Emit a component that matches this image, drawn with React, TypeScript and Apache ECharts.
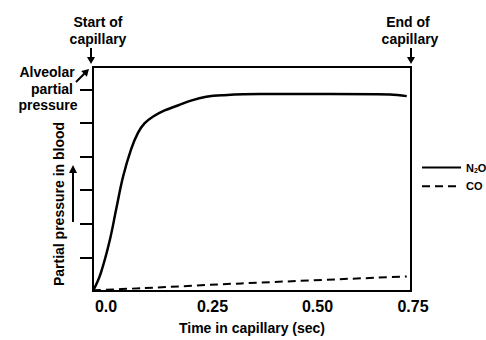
import React, { useEffect, useRef } from "react";
import * as echarts from "echarts";

const timeN2O = [0, 0.018, 0.039, 0.055, 0.071, 0.09, 0.106, 0.122, 0.142, 0.169, 0.2, 0.231, 0.267, 0.307, 0.394, 0.559, 0.7, 0.74];
const n2oValues = [0, 7.8, 22.2, 36.8, 51.1, 63.3, 70.6, 74.9, 77.9, 80.6, 82.8, 85.0, 86.7, 87.4, 87.9, 87.9, 87.7, 87.0];
const timeCO = [0, 0.12, 0.35, 0.74];
const coValues = [0.3, 1.3, 3.4, 6.5];
const xTickLabels = ["0.0", "0.25", "0.50", "0.75"];
const yTickValues = [15, 30, 45, 60, 75, 90];
const seriesNames = ["N2O", "CO"];

const FONT = "Liberation Sans, Arial, sans-serif";

function arrow(x1: number, y1: number, x2: number, y2: number, head = 7, half = 4) {
  const dx = x2 - x1;
  const dy = y2 - y1;
  const len = Math.sqrt(dx * dx + dy * dy);
  const ux = dx / len;
  const uy = dy / len;
  const bx = x2 - ux * head;
  const by = y2 - uy * head;
  const px = -uy;
  const py = ux;
  return [
    {
      type: "line",
      shape: { x1, y1, x2: bx + ux, y2: by + uy },
      style: { stroke: "#000", lineWidth: 2 },
    },
    {
      type: "polygon",
      shape: {
        points: [
          [x2, y2],
          [bx + px * half, by + py * half],
          [bx - px * half, by - py * half],
        ],
      },
      style: { fill: "#000" },
    },
  ];
}

function label(text: string, x: number, y: number) {
  return {
    type: "text",
    x,
    y,
    style: {
      text,
      fontSize: 14,
      fontWeight: "bold",
      fontFamily: FONT,
      fill: "#000",
      align: "center",
      verticalAlign: "middle",
    },
  };
}

export default function App() {
  const ref = useRef<HTMLDivElement>(null);
  useEffect(() => {
    if (!ref.current) return;
    const chart = echarts.init(ref.current, null, { renderer: "svg" });
    const labelPad = [26, 27, 25, 4];
    const rich: any = {};
    labelPad.forEach((p, i) => {
      rich["s" + i] = {
        fontSize: 16,
        fontWeight: "bold",
        fontFamily: FONT,
        color: "#000",
        padding: [0, 0, 0, p],
      };
    });
    const option: any = {
      animation: false,
      backgroundColor: "#fff",
      grid: {
        left: 93,
        right: 75,
        top: 67,
        bottom: 42,
        show: true,
        borderColor: "#000",
        borderWidth: 2,
      },
      legend: {
        data: seriesNames,
        orient: "vertical",
        left: 416,
        top: 157,
        itemWidth: 39,
        itemHeight: 14,
        itemGap: 7,
        selectedMode: false,
        itemStyle: { opacity: 0 },
        formatter: (name: string) => (name === "N2O" ? "{n|N}{sub|2}{n|O}" : "{n|" + name + "}"),
        textStyle: {
          fontSize: 11,
          fontWeight: "bold",
          fontFamily: FONT,
          color: "#000",
          rich: {
            n: { fontSize: 11, fontWeight: "bold", fontFamily: FONT, color: "#000", verticalAlign: "middle" },
            sub: {
              fontSize: 7,
              fontWeight: "bold",
              fontFamily: FONT,
              color: "#000",
              padding: [5, 0, 0, 0],
              verticalAlign: "middle",
            },
          },
        },
      },
      xAxis: {
        type: "value",
        min: 0,
        max: 0.75,
        interval: 0.25,
        name: "Time in capillary (sec)",
        nameLocation: "middle",
        nameGap: 30,
        nameTextStyle: { fontSize: 14, fontWeight: "bold", fontFamily: FONT, color: "#000" },
        axisLine: { show: true, lineStyle: { color: "#000", width: 2 } },
        axisTick: { show: false },
        splitLine: { show: false },
        axisLabel: {
          margin: 7,
          formatter: (v: number) => {
            const i = Math.round(v / 0.25);
            return "{s" + i + "|" + xTickLabels[i] + "}";
          },
          rich,
        },
      },
      yAxis: {
        type: "value",
        min: 0,
        max: 100,
        name: "Partial pressure in blood",
        nameLocation: "middle",
        nameRotate: 90,
        nameGap: 27,
        nameTextStyle: {
          fontSize: 14,
          fontWeight: "bold",
          fontFamily: FONT,
          color: "#000",
          padding: [0, 50, 0, 0],
        },
        axisLine: { show: true, lineStyle: { color: "#000", width: 2 } },
        axisTick: {
          show: true,
          length: 13,
          customValues: yTickValues,
          lineStyle: { color: "#000", width: 2 },
        },
        axisLabel: { show: false },
        splitLine: { show: false },
      },
      series: [
        {
          name: seriesNames[0],
          type: "line",
          data: timeN2O.map((t, i) => [t, n2oValues[i]]),
          smooth: 0.4,
          symbol: "none",
          lineStyle: { color: "#000", width: 2.5 },
          itemStyle: { color: "#000" },
        },
        {
          name: seriesNames[1],
          type: "line",
          data: timeCO.map((t, i) => [t, coValues[i]]),
          smooth: 0.3,
          symbol: "none",
          lineStyle: { color: "#000", width: 2, type: [8, 5] },
          itemStyle: { color: "#000" },
        },
      ],
      graphic: [
        label("Start of", 98, 21.5),
        label("capillary", 98, 38.5),
        label("End of", 408, 21.5),
        label("capillary", 410, 38.5),
        label("Alveolar", 47, 72),
        label("partial", 52, 88.5),
        label("pressure", 48, 105),
        ...arrow(91, 48, 91, 64),
        ...arrow(411, 48, 411, 64),
        ...arrow(76, 82, 89, 69),
        ...arrow(73, 222, 73, 165, 8, 4),
      ],
    };
    chart.setOption(option);
    return () => chart.dispose();
  }, []);
  return (
    <div
      ref={ref}
      style={{ position: "fixed", left: 0, top: 0, width: 486, height: 340 }}
    />
  );
}
